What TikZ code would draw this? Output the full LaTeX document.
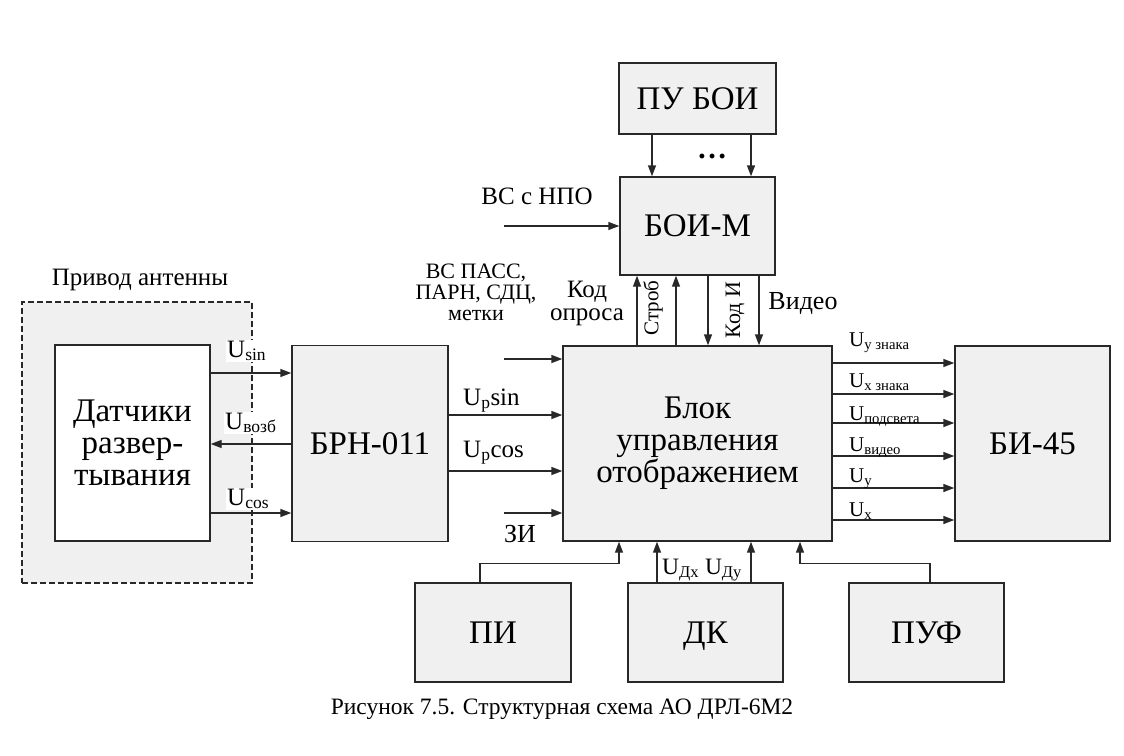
\documentclass[tikz,border=0pt]{standalone}
\usepackage{fontspec}
\setmainfont{Liberation Serif}
\usepackage{tikz}
\usetikzlibrary{arrows.meta}

\definecolor{boxfill}{RGB}{240,240,240}
\definecolor{linecol}{RGB}{40,40,40}

\begin{document}
\begin{tikzpicture}[x=1pt,y=-1pt,>={Triangle[length=11pt,width=8pt]},
  blok/.style={draw=linecol,fill=boxfill,line width=1.4pt,inner sep=0pt,align=center,font=\fontsize{33}{31}\selectfont},
  sig/.style={->,draw=linecol,line width=1.4pt},
  lab/.style={inner sep=0pt,font=\fontsize{25}{23}\selectfont},
  slab/.style={inner sep=0pt,font=\fontsize{21}{21}\selectfont},
  ulab/.style={lab,fill=white,inner sep=1pt}]
  \useasboundingbox (0,0) rectangle (1124,755);
  % antenna drive
  \node[draw=linecol,fill=boxfill,line width=1.4pt,dash pattern=on 6pt off 3pt,minimum width=230pt,minimum height=281pt] (privod) at (137,442.5) {};
  \node[lab,anchor=base] (privodtxt) at (140,285) {Привод антенны};
  \node[blok,fill=white,minimum width=155pt,minimum height=196pt,font=\fontsize{33}{32}\selectfont] (datchiki) at (132.5,443) {Датчики\\развер-\\тывания};
  % blocks
  \node[blok,minimum width=156pt,minimum height=196pt] (brn) at (370,443.5) {БРН-011};
  \node[blok,minimum width=269pt,minimum height=195pt,font=\fontsize{33}{32}\selectfont] (bu) at (697.5,443.5) {Блок\\управления\\отображением};
  \node[blok,minimum width=155pt,minimum height=98pt] (boim) at (697.5,226) {БОИ-М};
  \node[blok,minimum width=157pt,minimum height=71pt] (puboi) at (697.5,98.5) {ПУ БОИ};
  \node[blok,minimum width=155pt,minimum height=195pt] (bi) at (1032.5,443.5) {БИ-45};
  \node[blok,minimum width=156pt,minimum height=99pt] (pi) at (493,632.5) {ПИ};
  \node[blok,minimum width=155pt,minimum height=99pt,text depth=0pt] (dk) at (705.5,632.5) {ДК};
  \node[blok,minimum width=155pt,minimum height=99pt] (puf) at (926.5,632.5) {ПУФ};

  % sensors <-> БРН
  \draw[sig] (datchiki.east |- 0,373) -- (brn.west |- 0,373);
  \draw[sig] (brn.west |- 0,444) -- (datchiki.east |- 0,444);
  \draw[sig] (datchiki.east |- 0,513) -- (brn.west |- 0,513);
  \node[ulab,anchor=base west] (usin) at (226,357) {U\textsubscript{sin}};
  \node[ulab,anchor=base west] (uvozb) at (224,429) {U\textsubscript{возб}};
  \node[ulab,anchor=base west] (ucos) at (226,505) {U\textsubscript{cos}};

  % inputs of the control block
  \coordinate (vspass) at (504,359);
  \coordinate (zi) at (504,513);
  \coordinate (vsnpo) at (504,226);
  \draw[sig] (vspass) -- (bu.west |- vspass);
  \draw[sig] (brn.east |- 0,415) -- (bu.west |- 0,415);
  \draw[sig] (brn.east |- 0,471) -- (bu.west |- 0,471);
  \draw[sig] (zi) -- (bu.west |- zi);
  \draw[sig] (vsnpo) -- (boim.west |- vsnpo);
  \node[lab,anchor=base west] (upsin) at (463,405) {U\textsubscript{р}sin};
  \node[lab,anchor=base west] (upcos) at (463,457) {U\textsubscript{р}cos};
  \node[lab,anchor=base,font=\fontsize{26}{26}\selectfont] (zitxt) at (520,542) {ЗИ};
  \node[lab,anchor=base] (vsnpotxt) at (537,204) {ВС с НПО};
  \node[lab,align=center,anchor=base,font=\fontsize{22}{21}\selectfont] (vspasstxt) at (476,320) {ВС ПАСС,\\ПАРН, СДЦ,\\метки};

  % БОИ-М
  \draw[sig] (puboi.south -| 652,0) -- (boim.north -| 652,0);
  \draw[sig] (puboi.south -| 751,0) -- (boim.north -| 751,0);
  \node[lab,font=\fontsize{30}{30}\bfseries] (dots) at (712,156) {\ldots};
  \draw[sig] (bu.north -| 637,0) -- (boim.south -| 637,0);
  \draw[sig] (bu.north -| 676,0) -- (boim.south -| 676,0);
  \draw[sig] (boim.south -| 708,0) -- (bu.north -| 708,0);
  \draw[sig] (boim.south -| 759,0) -- (bu.north -| 759,0);
  \node[lab,align=center,anchor=base] (kodopr) at (587,320) {Код\\опроса};
  \node[slab,rotate=90] (strob) at (653,308) {Строб};
  \node[slab,rotate=90,font=\fontsize{22}{22}\selectfont] (kodi) at (735,310) {Код И};
  \node[lab,anchor=base,font=\fontsize{26}{26}\selectfont] (video) at (803,309) {Видео};

  % outputs to БИ-45
  \foreach \yy/\by/\txt in {363/346/{у знака},394/387/{х знака},423/420/{подсвета},456/451/{видео},488/482/{у},520/516/{х}}{
    \draw[sig] (bu.east |- 0,\yy) -- (bi.west |- 0,\yy);
    \node[slab,anchor=base west] at (849,\by) {U\textsubscript{\txt}};
  }

  % bottom blocks
  \draw[sig] (pi.north -| 480,0) -- ++(0,-19) -| (bu.south -| 619,0);
  \draw[sig] (dk.north -| 657,0) -- (bu.south -| 657,0);
  \draw[sig] (dk.north -| 751,0) -- (bu.south -| 751,0);
  \draw[sig] (puf.north -| 930,0) -- ++(0,-19) -| (bu.south -| 800,0);
  \node[lab,anchor=base west,font=\fontsize{23.5}{23.5}\selectfont] (udx) at (662,574) {U\textsubscript{Дх} U\textsubscript{Ду}};

  \node[lab,anchor=base,font=\fontsize{23.5}{23.5}\selectfont] (caption) at (562,714) {Рисунок 7.5. Структурная схема АО ДРЛ-6М2};
\end{tikzpicture}
\end{document}
